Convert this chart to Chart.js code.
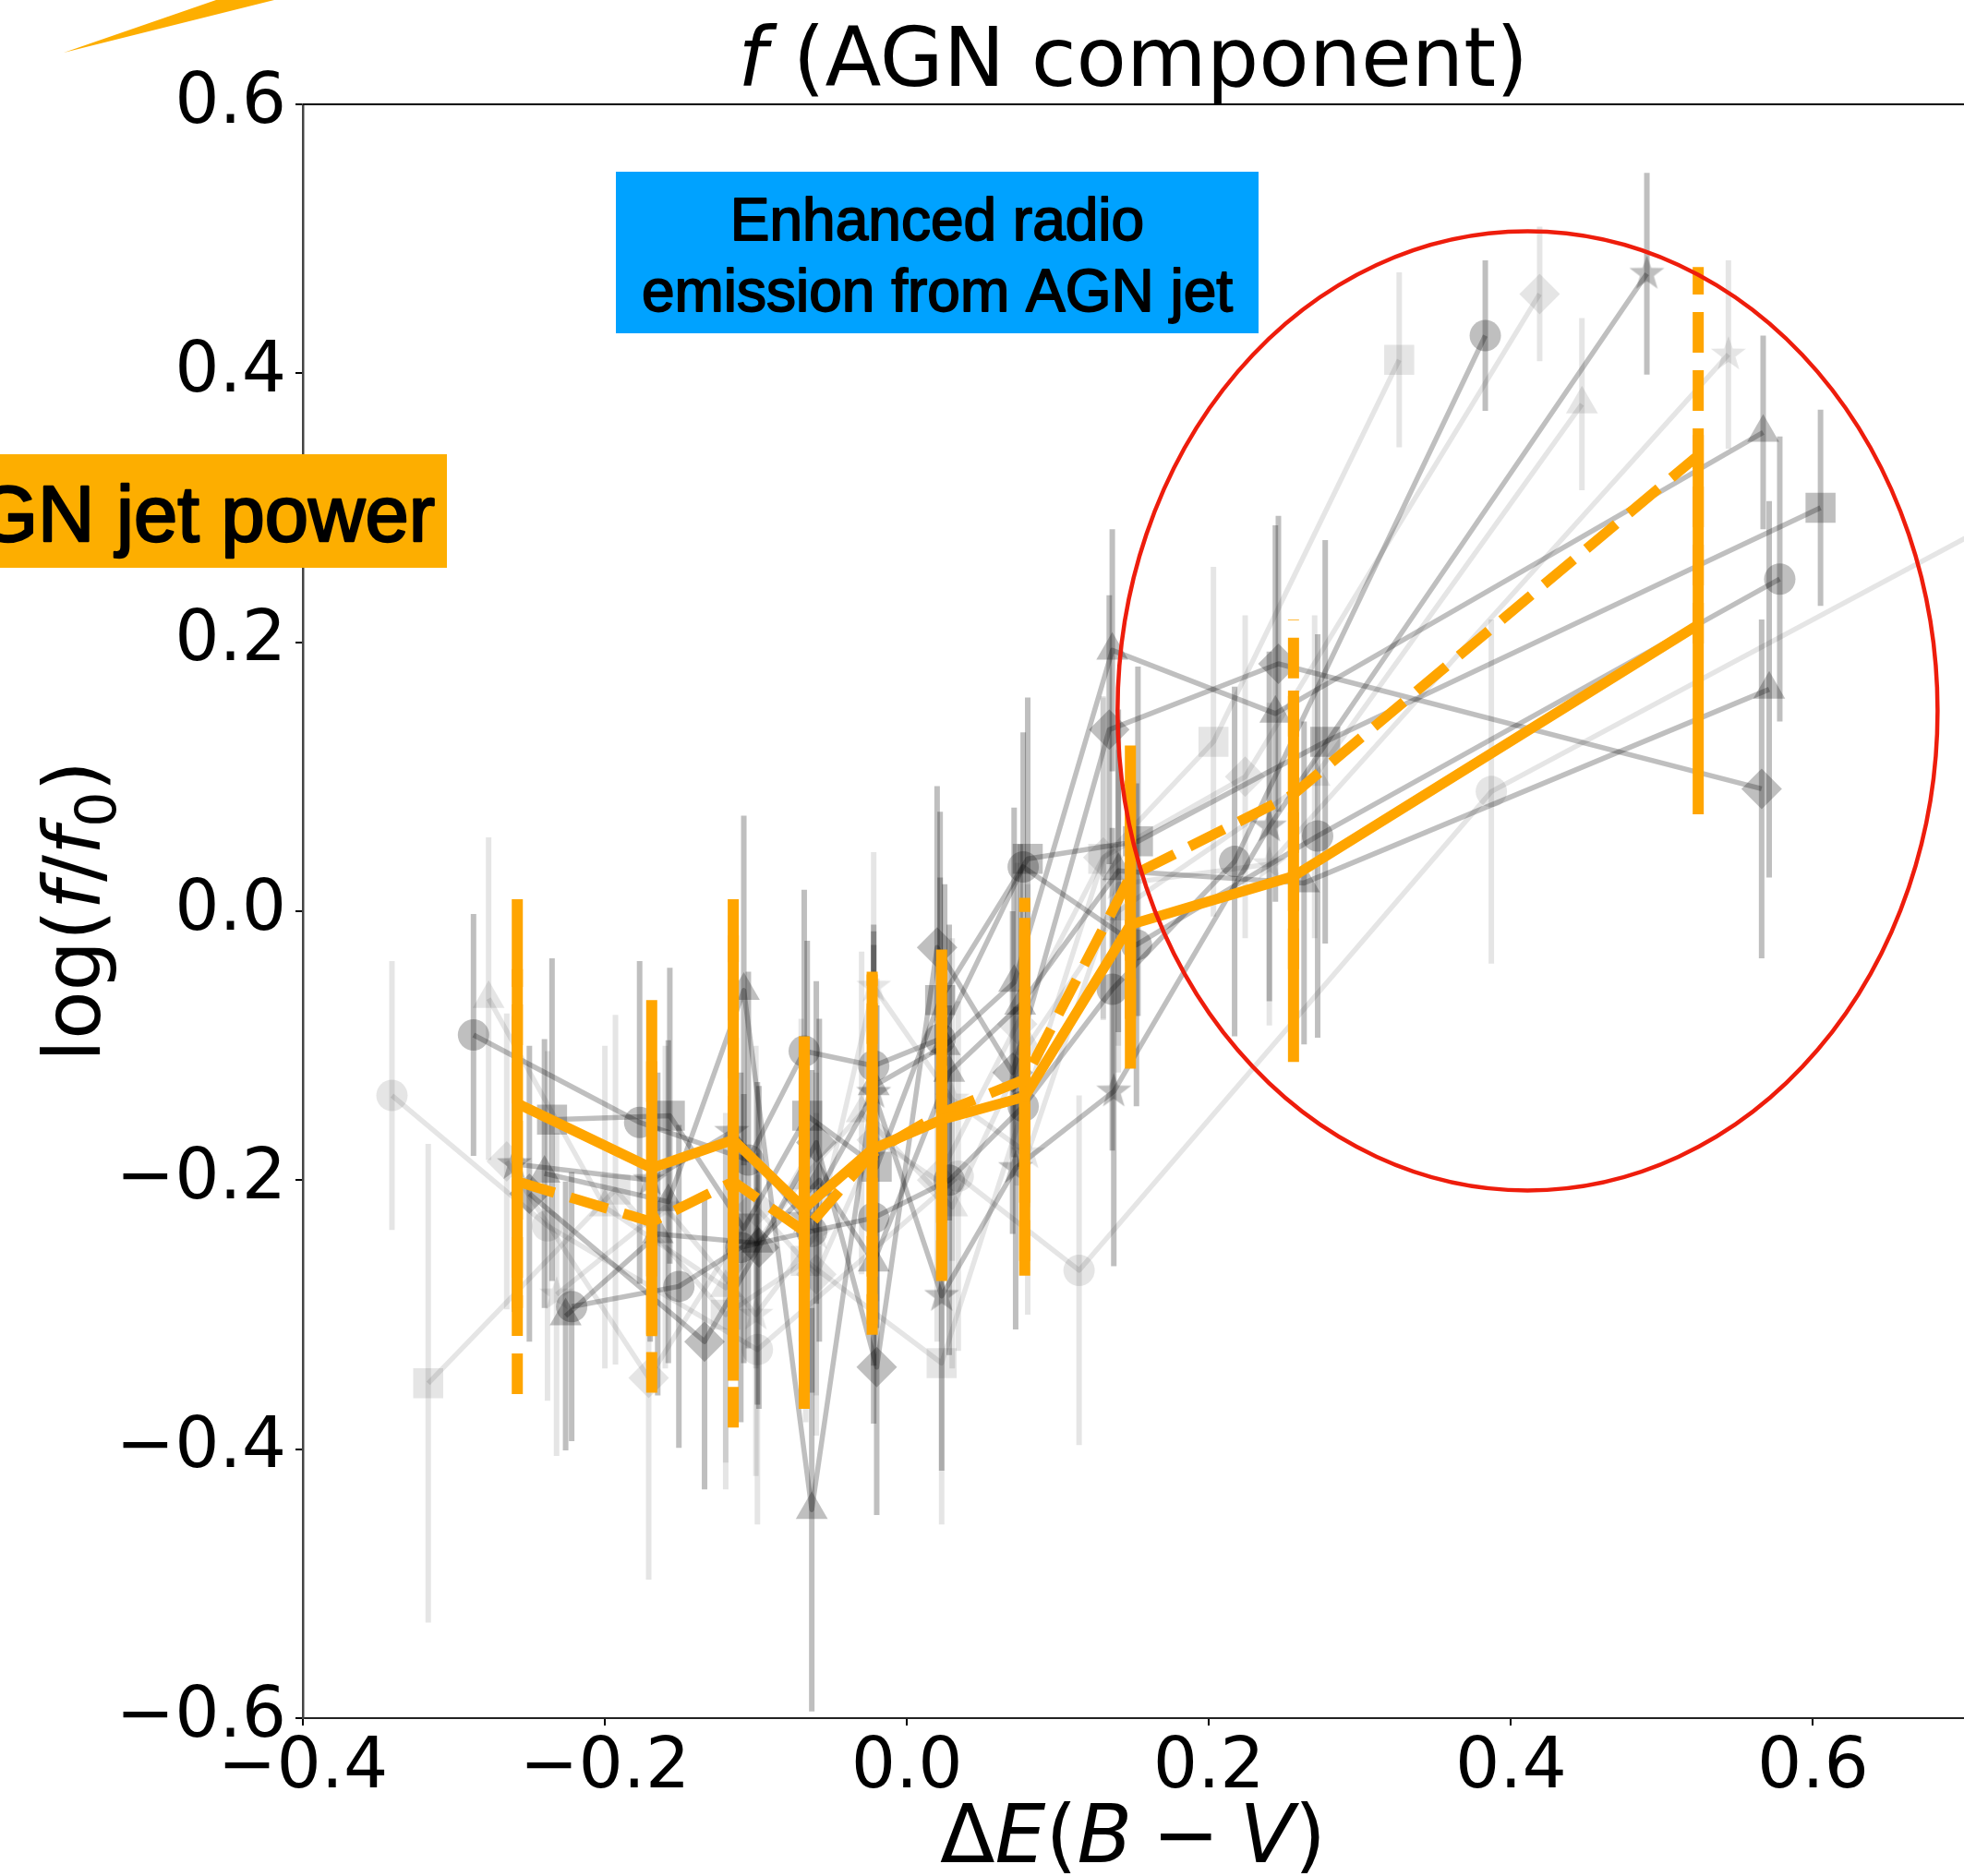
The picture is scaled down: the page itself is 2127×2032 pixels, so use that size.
<!DOCTYPE html>
<html>
<head>
<meta charset="utf-8">
<script src="https://cdn.jsdelivr.net/npm/chart.js@4/dist/chart.umd.min.js"></script>
<style>
  html, body { margin: 0; padding: 0; background: #fff; }
  #wrap { width: 2127px; height: 2032px; position: relative; }
</style>
</head>
<body>
<div id="wrap"><canvas id="chart" width="2127" height="2032"></canvas></div>
<script>
const xTicks = [-0.4, -0.2, 0.0, 0.2, 0.4, 0.6];
const yTicks = [-0.6, -0.4, -0.2, 0.0, 0.2, 0.4, 0.6];

// binned AGN component (orange)
const binX     = [-0.258, -0.169, -0.115, -0.068, -0.023, 0.023, 0.078, 0.148, 0.256, 0.524];
const solidY   = [-0.143, -0.191, -0.170, -0.221, -0.177, -0.155, -0.138, -0.010, 0.026, 0.213];
const solidErr = [0.152, 0.125, 0.179, 0.128, 0.130, 0.118, 0.133, 0.107, 0.138, 0.141];
const dashY    = [-0.201, -0.231, -0.201, -0.238, -0.180, -0.150, -0.125, 0.026, 0.087, 0.339];
const dashErr  = [0.158, 0.127, 0.183, 0.132, 0.135, 0.125, 0.135, 0.106, 0.130, 0.140];

// individual tracks (gray), dark ones
const dcAx = [-0.287, -0.177, -0.105, -0.068, -0.022, 0.022, 0.077, 0.152, 0.272, 0.578];
const dcAy = [-0.092, -0.157, -0.185, -0.104, -0.115, -0.095, 0.033, -0.025, 0.056, 0.247];
const dcAe = [0.09, 0.12, 0.14, 0.12, 0.10, 0.12, 0.10, 0.12, 0.15, 0.106];

const dcBx = [-0.222, -0.151, -0.110, -0.063, -0.022, 0.028, 0.077, 0.136, 0.217, 0.383];
const dcBy = [-0.294, -0.279, -0.250, -0.238, -0.228, -0.200, -0.145, -0.058, 0.037, 0.428];
const dcBe = [0.10, 0.12, 0.13, 0.12, 0.11, 0.13, 0.12, 0.12, 0.13, 0.056];

const dsx = [-0.235, -0.157, -0.108, -0.066, -0.020, 0.022, 0.080, 0.153, 0.277, 0.605];
const dsy = [-0.155, -0.152, -0.236, -0.152, -0.190, -0.066, 0.039, 0.052, 0.126, 0.300];
const dse = [0.12, 0.11, 0.10, 0.13, 0.12, 0.14, 0.12, 0.13, 0.15, 0.073];

const dtAx = [-0.240, -0.158, -0.108, -0.063, -0.022, 0.025, 0.071, 0.136, 0.244, 0.567];
const dtAy = [-0.195, -0.216, -0.059, -0.445, -0.130, -0.100, -0.053, 0.194, 0.147, 0.356];
const dtAe = [0.10, 0.12, 0.13, 0.15, 0.12, 0.12, 0.13, 0.09, 0.14, 0.072];

const dtBx = [-0.226, -0.165, -0.099, -0.058, -0.022, 0.028, 0.075, 0.140, 0.263, 0.571];
const dtBy = [-0.301, -0.240, -0.247, -0.200, -0.261, -0.120, -0.070, 0.030, 0.021, 0.165];
const dtBe = [0.10, 0.12, 0.12, 0.12, 0.12, 0.11, 0.12, 0.12, 0.12, 0.14];

const ddx = [-0.250, -0.134, -0.098, -0.060, -0.020, 0.020, 0.070, 0.134, 0.246, 0.566];
const ddy = [-0.210, -0.320, -0.250, -0.172, -0.339, -0.027, -0.120, 0.135, 0.184, 0.091];
const dde = [0.11, 0.11, 0.12, 0.12, 0.11, 0.12, 0.12, 0.10, 0.11, 0.126];

const dstx = [-0.260, -0.170, -0.116, -0.068, -0.022, 0.023, 0.072, 0.137, 0.240, 0.490];
const dsty = [-0.188, -0.200, -0.164, -0.228, -0.135, -0.286, -0.191, -0.134, 0.063, 0.474];
const dste = [0.11, 0.12, 0.12, 0.12, 0.11, 0.13, 0.12, 0.13, 0.13, 0.075];

// light ones
const lcx = [-0.341, -0.238, -0.099, 0.034, 0.114, 0.387, 0.750];
const lcy = [-0.137, -0.234, -0.326, -0.197, -0.267, 0.089, 0.307];
const lce = [0.10, 0.13, 0.13, 0.13, 0.13, 0.128, 0.12];

const lsx = [-0.317, -0.193, -0.120, -0.067, 0.023, 0.130, 0.203, 0.326];
const lsy = [-0.351, -0.207, -0.300, -0.260, -0.336, 0.039, 0.126, 0.410];
const lse = [0.178, 0.13, 0.13, 0.12, 0.12, 0.12, 0.13, 0.065];

const ltx = [-0.277, -0.200, -0.120, -0.070, -0.030, 0.030, 0.080, 0.140, 0.270, 0.447];
const lty = [-0.065, -0.220, -0.280, -0.200, -0.150, -0.220, -0.100, 0.000, 0.100, 0.377];
const lte = [0.12, 0.12, 0.13, 0.12, 0.12, 0.12, 0.12, 0.12, 0.12, 0.064];

const ldx = [-0.265, -0.171, -0.100, -0.060, -0.020, 0.020, 0.073, 0.130, 0.224, 0.419];
const ldy = [-0.186, -0.347, -0.220, -0.270, -0.170, -0.200, -0.084, 0.040, 0.100, 0.459];
const lde = [0.11, 0.15, 0.12, 0.12, 0.12, 0.12, 0.12, 0.12, 0.12, 0.05];

const lstx = [-0.232, -0.160, -0.100, -0.060, -0.022, 0.030, 0.080, 0.140, 0.240, 0.544];
const lsty = [-0.285, -0.220, -0.300, -0.240, -0.056, -0.140, -0.180, 0.020, 0.035, 0.414];
const lste = [0.12, 0.12, 0.12, 0.12, 0.10, 0.12, 0.12, 0.12, 0.12, 0.07];

const DARK = 'rgba(0,0,0,0.25)';
const LIGHT = 'rgba(0,0,0,0.10)';
const ORANGE = '#FFA500';

const pts = (xs, ys) => xs.map((x, i) => ({ x, y: ys[i] }));

function starImage(color, r) {
    const c = document.createElement('canvas');
    const s = Math.ceil(r * 2 + 2);
    c.width = s; c.height = s;
    const g = c.getContext('2d');
    g.fillStyle = color;
    g.beginPath();
    for (let k = 0; k < 10; k++) {
        const rr = k % 2 ? r * 0.4 : r;
        const a = -Math.PI / 2 + k * Math.PI / 5;
        const px = s / 2 + rr * Math.cos(a), py = s / 2 + rr * Math.sin(a);
        if (k) g.lineTo(px, py); else g.moveTo(px, py);
    }
    g.closePath();
    g.fill();
    return c;
}

const markers = {
    circle: { pointStyle: 'circle', pointRadius: 17 },
    square: { pointStyle: 'rect', pointRadius: 23 },
    triangle: { pointStyle: 'triangle', pointRadius: 20 },
    diamond: { pointStyle: 'rectRot', pointRadius: 22 },
    starDark: { pointStyle: starImage(DARK, 20), pointRadius: 20 },
    starLight: { pointStyle: starImage(LIGHT, 20), pointRadius: 20 }
};

const track = (label, xs, ys, es, marker, color) => ({
    label,
    data: pts(xs, ys),
    err: es,
    showLine: true,
    borderColor: color,
    backgroundColor: color,
    pointBackgroundColor: color,
    pointBorderWidth: 0,
    borderWidth: 5.5,
    borderJoinStyle: 'round',
    errWidth: 6,
    order: 2,
    ...markers[marker]
});

const datasets = [
    track('dark circle A', dcAx, dcAy, dcAe, 'circle', DARK),
    track('dark circle B', dcBx, dcBy, dcBe, 'circle', DARK),
    track('dark square', dsx, dsy, dse, 'square', DARK),
    track('dark triangle A', dtAx, dtAy, dtAe, 'triangle', DARK),
    track('dark triangle B', dtBx, dtBy, dtBe, 'triangle', DARK),
    track('dark diamond', ddx, ddy, dde, 'diamond', DARK),
    track('dark star', dstx, dsty, dste, 'starDark', DARK),
    track('light circle', lcx, lcy, lce, 'circle', LIGHT),
    track('light square', lsx, lsy, lse, 'square', LIGHT),
    track('light triangle', ltx, lty, lte, 'triangle', LIGHT),
    track('light diamond', ldx, ldy, lde, 'diamond', LIGHT),
    track('light star', lstx, lsty, lste, 'starLight', LIGHT),
    {
        label: 'median (dashed)',
        data: pts(binX, dashY), err: dashErr,
        showLine: true, borderColor: ORANGE, borderWidth: 11, borderDash: [42, 18],
        pointRadius: 0, errWidth: 12, errDash: [44, 19], order: 1
    },
    {
        label: 'median',
        data: pts(binX, solidY), err: solidErr,
        showLine: true, borderColor: ORANGE, borderWidth: 11, borderJoinStyle: 'round',
        pointRadius: 0, errWidth: 12, order: 0
    }
];

// vertical error bars, drawn just under each dataset
const errorBars = {
    id: 'errorBars',
    beforeDatasetDraw(chart, args) {
        const ds = chart.data.datasets[args.index];
        if (!ds.err) return;
        const { x: sx, y: sy } = chart.scales;
        const a = chart.chartArea;
        const ctx = chart.ctx;
        ctx.save();
        ctx.beginPath();
        ctx.rect(a.left, a.top, a.right - a.left, a.bottom - a.top);
        ctx.clip();
        ctx.strokeStyle = ds.borderColor;
        ctx.lineWidth = ds.errWidth;
        ctx.setLineDash(ds.errDash || []);
        ds.data.forEach((p, i) => {
            const px = sx.getPixelForValue(p.x);
            ctx.beginPath();
            ctx.moveTo(px, sy.getPixelForValue(p.y - ds.err[i]));
            ctx.lineTo(px, sy.getPixelForValue(p.y + ds.err[i]));
            ctx.stroke();
        });
        ctx.restore();
    }
};

// mixed roman / italic text runs
function richText(ctx, parts, x, y, size, family, align) {
    const fontOf = p => `${p.it ? 'italic ' : ''}${p.sub ? size * 0.7 : size}px ${family}`;
    let total = 0;
    parts.forEach(p => { ctx.font = fontOf(p); total += ctx.measureText(p.t).width; });
    let cx = align === 'center' ? x - total / 2 : x;
    ctx.textAlign = 'left';
    ctx.textBaseline = 'alphabetic';
    parts.forEach(p => {
        ctx.font = fontOf(p);
        ctx.fillText(p.t, cx, p.sub ? y + size * 0.2 : y);
        cx += ctx.measureText(p.t).width;
    });
}

// medium-weight text: regular face with a thin outline
function mediumText(ctx, text, x, y, w) {
    ctx.fillText(text, x, y);
    ctx.lineWidth = w;
    ctx.strokeStyle = '#000';
    ctx.lineJoin = 'round';
    ctx.strokeText(text, x, y);
}

const decor = {
    id: 'decor',
    afterDatasetsDraw(chart) {
        const ctx = chart.ctx;
        const { x: sx, y: sy } = chart.scales;
        // red ellipse around the high-extinction points
        const cx = sx.getPixelForValue(0.411), cy = sy.getPixelForValue(0.149);
        const rx = sx.getPixelForValue(0.411 + 0.2715) - cx;
        const ry = cy - sy.getPixelForValue(0.149 + 0.3566);
        ctx.save();
        ctx.strokeStyle = '#EE1D0C';
        ctx.lineWidth = 4.5;
        ctx.beginPath();
        ctx.ellipse(cx, cy, rx, ry, 0, 0, Math.PI * 2);
        ctx.stroke();
        ctx.restore();
    },
    afterDraw(chart) {
        const ctx = chart.ctx;
        const a = chart.chartArea;
        ctx.save();
        // top spine
        ctx.strokeStyle = '#000';
        ctx.lineWidth = 2;
        ctx.beginPath();
        ctx.moveTo(a.left, a.top);
        ctx.lineTo(a.right, a.top);
        ctx.stroke();

        // blue annotation box
        ctx.fillStyle = '#00A2FF';
        ctx.fillRect(667, 186, 696, 175);
        ctx.fillStyle = '#000';
        ctx.font = '64px "Liberation Sans"';
        ctx.textAlign = 'center';
        ctx.textBaseline = 'alphabetic';
        mediumText(ctx, 'Enhanced radio', 1015, 260, 1.8);
        mediumText(ctx, 'emission from AGN jet', 1015, 337, 1.8);

        // orange annotation box (cut by the figure edge)
        ctx.fillStyle = '#FDAE00';
        ctx.fillRect(0, 492, 484, 123);
        ctx.fillStyle = '#000';
        ctx.font = '85px "Liberation Sans"';
        ctx.textAlign = 'right';
        mediumText(ctx, 'AGN jet power', 471, 586, 2.4);

        // arrow tip entering from above
        ctx.fillStyle = '#FDAE00';
        ctx.beginPath();
        ctx.moveTo(69, 57);
        ctx.lineTo(234, 0);
        ctx.lineTo(297, 0);
        ctx.closePath();
        ctx.fill();

        // title and axis labels
        ctx.fillStyle = '#000';
        const fam = '"DejaVu Sans"';
        richText(ctx, [{ t: 'f', it: true }, { t: ' (AGN component)' }], 1227, 93, 89, fam, 'center');
        richText(ctx, [{ t: '\u0394' }, { t: 'E', it: true }, { t: '(' }, { t: 'B', it: true },
            { t: '\u2005\u2212\u2005' }, { t: 'V', it: true }, { t: ')' }],
            1227, 2017, 87, fam, 'center');
        ctx.translate(108, (a.top + a.bottom) / 2);
        ctx.rotate(-Math.PI / 2);
        richText(ctx, [{ t: 'log(' }, { t: 'f', it: true }, { t: '/' }, { t: 'f', it: true },
            { t: '0', sub: true }, { t: ')' }], 0, 0, 86, fam, 'center');
        ctx.restore();
    }
};

const tickFmt = v => (v < 0 ? '\u2212' : '') + Math.abs(v).toFixed(1);

new Chart(document.getElementById('chart'), {
    type: 'scatter',
    data: { datasets },
    options: {
        responsive: false,
        animation: false,
        events: [],
        layout: { autoPadding: false, padding: { top: 113, right: 0, left: 0, bottom: 0 } },
        plugins: { legend: { display: false }, tooltip: { enabled: false } },
        scales: {
            x: {
                type: 'linear', min: -0.4, max: 0.7,
                afterBuildTicks: s => { s.ticks = xTicks.map(v => ({ value: v })); },
                afterFit: s => { s.height = 171; s.paddingRight = 0; s.paddingLeft = 0; },
                grid: { drawOnChartArea: false, drawTicks: true, tickLength: 8, color: '#000', lineWidth: 2 },
                border: { color: '#222', width: 2 },
                ticks: { font: { family: 'DejaVu Sans', size: 76 }, color: '#000', padding: 2, callback: tickFmt, maxRotation: 0 }
            },
            y: {
                type: 'linear', min: -0.6, max: 0.6,
                afterBuildTicks: s => { s.ticks = yTicks.map(v => ({ value: v })); },
                afterFit: s => { s.width = 328; },
                grid: { drawOnChartArea: false, drawTicks: true, tickLength: 8, color: '#000', lineWidth: 2 },
                border: { color: '#444', width: 2.5 },
                ticks: { font: { family: 'DejaVu Sans', size: 76 }, color: '#000', padding: 10, callback: tickFmt }
            }
        }
    },
    plugins: [errorBars, decor]
});
</script>
</body>
</html>
